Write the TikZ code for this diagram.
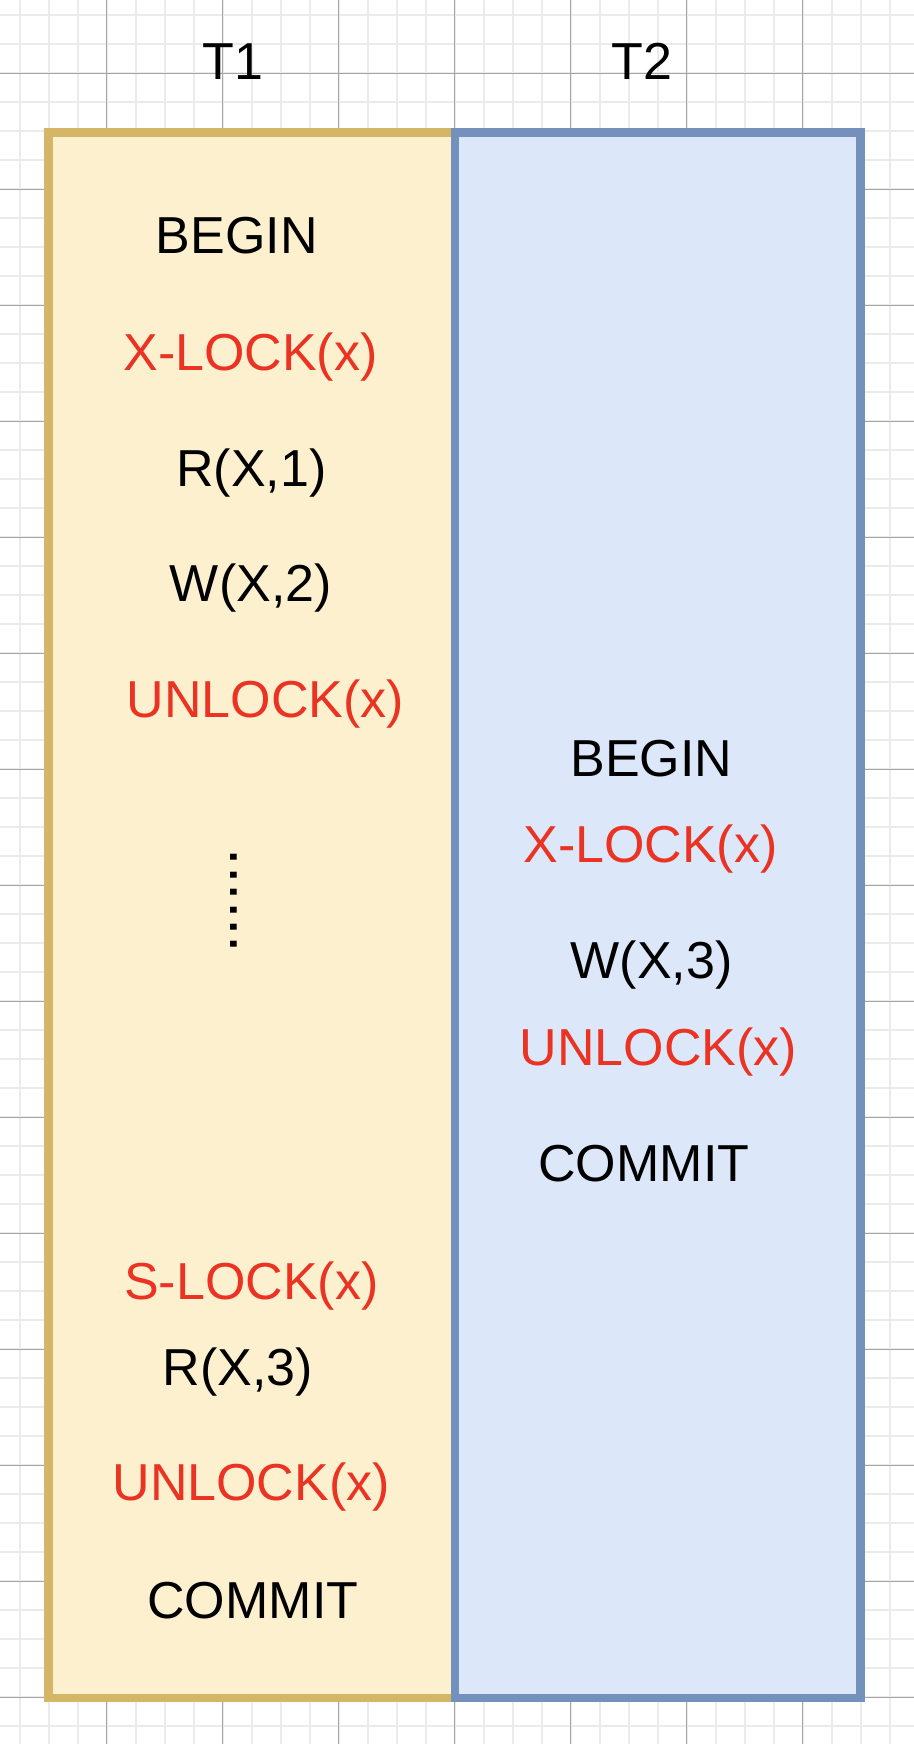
\documentclass[tikz,border=0pt]{standalone}
\usepackage{fontspec}
\setmainfont{Liberation Sans}
\newfontfamily\labelfont{Liberation Sans}

\definecolor{lockred}{RGB}{234,51,35}
\definecolor{tonefill}{RGB}{253,240,207}
\definecolor{tonedraw}{RGB}{212,182,102}
\definecolor{ttwofill}{RGB}{220,231,249}
\definecolor{ttwodraw}{RGB}{116,144,189}
\definecolor{gridminor}{RGB}{235,235,235}
\definecolor{gridmajor}{RGB}{165,165,165}

\tikzset{
  minorline/.style={draw=gridminor, line width=1pt},
  majorline/.style={draw=gridmajor, line width=0.5pt},
  txnbox/.style={line width=4.2pt, line join=miter},
  optext/.style={anchor=base, inner sep=0pt, font=\labelfont\fontsize{26}{30}\selectfont, text=black},
  lockop/.style={optext, text=lockred},
  ellipsis/.style={anchor=base west, inner sep=0pt, rotate=-90, font=\labelfont\fontsize{31.3}{36}\selectfont}
}

\begin{document}
\begin{tikzpicture}[x=0.5pt, y=-0.5pt]
  % canvas
  \useasboundingbox (0,0) rectangle (914,1744);
  \fill[white] (0,0) rectangle (914,1744);

  % background grid
  \begin{scope}
    \clip (0,0) rectangle (914,1744);
    \foreach \i in {0,...,30} \draw[minorline] ({19.7+29*\i},0) -- ({19.7+29*\i},1744);
    \foreach \j in {0,...,59} \draw[minorline] (0,{15.3+29*\j}) -- (914,{15.3+29*\j});
    \foreach \i in {1,...,7} \draw[majorline] ({-9.5+116*\i},0) -- ({-9.5+116*\i},1744);
    \foreach \j in {0,...,14} \draw[majorline] (0,{73.3+116*\j}) -- (914,{73.3+116*\j});
  \end{scope}

  % transaction columns
  \draw[txnbox, fill=tonefill, draw=tonedraw] (48.5,132.5) rectangle (454.7,1698);
  \draw[txnbox, fill=ttwofill, draw=ttwodraw] (454.7,132.5) rectangle (860.5,1698);

  % column headings
  \node[optext] (hone) at (232.8,80) {T1};
  \node[optext] (htwo) at (642.2,80) {T2};

  % operations of T1
  \node[optext] (abegin)   at (236.7,254)    {BEGIN};
  \node[lockop] (axlock)   at (250.5,370)    {X-LOCK(x)};
  \node[optext] (aread)    at (251.3,486.7)  {R(X,1)};
  \node[optext] (awrite)   at (250.8,601.7)  {W(X,2)};
  \node[lockop] (aunlock)  at (265.5,717.3)  {UNLOCK(x)};
  \node[ellipsis] (adots)  at (230.6,848.5)  {......};
  \node[lockop] (aslock)   at (251.3,1299.3) {S-LOCK(x)};
  \node[optext] (areread)  at (237.8,1385)   {R(X,3)};
  \node[lockop] (aunlockb) at (251.2,1500)   {UNLOCK(x)};
  \node[optext] (acommit)  at (252.8,1618.3) {COMMIT};

  % operations of T2
  \node[optext] (bbegin)  at (651.3,776)    {BEGIN};
  \node[lockop] (bxlock)  at (650.5,862.7)  {X-LOCK(x)};
  \node[optext] (bwrite)  at (651.7,978.3)  {W(X,3)};
  \node[lockop] (bunlock) at (658.3,1065)   {UNLOCK(x)};
  \node[optext] (bcommit) at (643.8,1181.7) {COMMIT};
\end{tikzpicture}
\end{document}
